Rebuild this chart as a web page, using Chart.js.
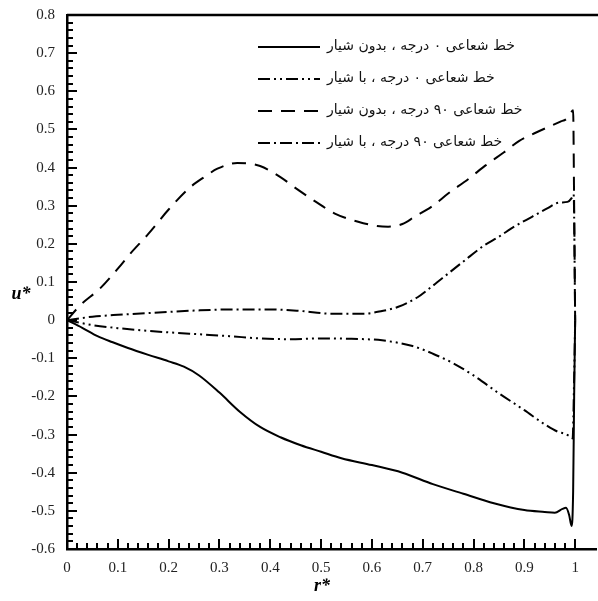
<!DOCTYPE html>
<html>
<head>
<meta charset="utf-8">
<script src="https://cdn.jsdelivr.net/npm/chart.js@4/dist/chart.umd.min.js"></script>
<style>
  html, body { margin: 0; padding: 0; background: #fff; overflow: hidden; }
  #wrap { width: 598px; height: 601px; }
</style>
</head>
<body>
<div id="wrap"><canvas id="c"></canvas></div>
<script>
// Radial velocity profiles u* against r*
const labels = [
  'خط شعاعی ۰ درجه ، بدون شیار',
  'خط شعاعی ۰ درجه ، با شیار',
  'خط شعاعی ۹۰ درجه ، بدون شیار',
  'خط شعاعی ۹۰ درجه ، با شیار'
];

// 0 deg, no groove
const r0plain = [0, 0.03, 0.06, 0.09, 0.12, 0.16, 0.2, 0.23, 0.26, 0.3, 0.34, 0.38, 0.42, 0.46, 0.5, 0.54, 0.6, 0.66, 0.72, 0.78, 0.84, 0.9, 0.94, 0.96, 0.975, 0.982, 0.988, 0.993, 0.996, 0.998, 1.0];
const u0plain = [0, -0.02, -0.042, -0.058, -0.073, -0.091, -0.108, -0.122, -0.145, -0.19, -0.24, -0.28, -0.307, -0.328, -0.345, -0.362, -0.38, -0.4, -0.43, -0.455, -0.48, -0.498, -0.503, -0.505, -0.495, -0.492, -0.51, -0.54, -0.45, -0.2, 0];

// 0 deg, grooved
const r0groove = [0, 0.05, 0.1, 0.15, 0.2, 0.26, 0.32, 0.38, 0.44, 0.5, 0.56, 0.62, 0.68, 0.72, 0.76, 0.8, 0.85, 0.9, 0.94, 0.965, 0.98, 0.99, 0.995, 0.998, 1.0];
const u0groove = [0, -0.013, -0.021, -0.027, -0.032, -0.037, -0.042, -0.048, -0.05, -0.048, -0.049, -0.053, -0.068, -0.088, -0.113, -0.145, -0.192, -0.236, -0.273, -0.292, -0.298, -0.305, -0.31, -0.15, 0];

// 90 deg, no groove
const r90plain = [0, 0.026, 0.065, 0.1, 0.125, 0.16, 0.2, 0.243, 0.27, 0.296, 0.335, 0.38, 0.42, 0.447, 0.49, 0.526, 0.573, 0.61, 0.632, 0.66, 0.684, 0.72, 0.75, 0.79, 0.823, 0.86, 0.89, 0.92, 0.948, 0.97, 0.985, 0.992, 0.996, 0.998, 1.0];
const u90plain = [0, 0.039, 0.083, 0.135, 0.175, 0.226, 0.29, 0.349, 0.375, 0.397, 0.412, 0.404, 0.375, 0.349, 0.31, 0.28, 0.258, 0.247, 0.245, 0.252, 0.271, 0.3, 0.332, 0.37, 0.405, 0.44, 0.47, 0.49, 0.507, 0.52, 0.53, 0.545, 0.55, 0.3, 0];

// 90 deg, grooved
const r90groove = [0, 0.05, 0.1, 0.18, 0.25, 0.32, 0.4, 0.46, 0.52, 0.586, 0.62, 0.652, 0.69, 0.717, 0.75, 0.783, 0.82, 0.849, 0.88, 0.915, 0.945, 0.968, 0.985, 0.993, 0.997, 1.0];
const u90groove = [0, 0.009, 0.014, 0.02, 0.025, 0.028, 0.028, 0.024, 0.017, 0.017, 0.024, 0.035, 0.06, 0.087, 0.122, 0.157, 0.195, 0.218, 0.245, 0.271, 0.293, 0.308, 0.31, 0.32, 0.33, 0];

const xTickLabels = ['0', '0.1', '0.2', '0.3', '0.4', '0.5', '0.6', '0.7', '0.8', '0.9', '1'];
const yTickLabels = ['-0.6', '-0.5', '-0.4', '-0.3', '-0.2', '-0.1', '0', '0.1', '0.2', '0.3', '0.4', '0.5', '0.6', '0.7', '0.8'];

const pts = (xs, ys) => xs.map((x, i) => ({ x, y: ys[i] }));

const lineStyles = [
  [],
  [12, 4, 2, 4, 2, 4],
  [14, 9],
  [12, 4, 2, 4]
];
const series = [pts(r0plain, u0plain), pts(r0groove, u0groove), pts(r90plain, u90plain), pts(r90groove, u90groove)];

const datasets = series.map((data, i) => ({
  label: labels[i],
  data,
  showLine: true,
  borderColor: '#000',
  borderWidth: 2,
  borderDash: lineStyles[i],
  pointRadius: 0,
  fill: false,
  cubicInterpolationMode: 'monotone'
}));

function labelFor(v, list) {
  const k = Math.round(v * 10);
  if (Math.abs(v * 10 - k) > 1e-6) return '';
  const s = (k / 10).toString();
  return list.includes(s) ? s : '';
}

const serif = '"Liberation Serif", "Times New Roman", serif';

const decorations = {
  id: 'decorations',
  afterDraw(chart) {
    const ctx = chart.ctx;
    const a = chart.chartArea;
    const xs = chart.scales.x, ys = chart.scales.y;
    ctx.save();
    ctx.strokeStyle = '#000';
    // top frame line
    ctx.lineWidth = 2.5;
    ctx.beginPath();
    ctx.moveTo(a.left, a.top);
    ctx.lineTo(chart.width, a.top);
    ctx.stroke();
    // inward tick marks
    ctx.lineWidth = 2;
    xs.ticks.forEach(t => {
      if (t.value > 1.0001) return;
      const major = labelFor(t.value, xTickLabels) !== '';
      const px = Math.round(xs.getPixelForValue(t.value));
      ctx.beginPath();
      ctx.moveTo(px, a.bottom);
      ctx.lineTo(px, a.bottom - (major ? 10 : 6));
      ctx.stroke();
    });
    ys.ticks.forEach(t => {
      const major = labelFor(t.value, yTickLabels) !== '';
      const py = Math.round(ys.getPixelForValue(t.value));
      ctx.beginPath();
      ctx.moveTo(a.left, py);
      ctx.lineTo(a.left + (major ? 10 : 6), py);
      ctx.stroke();
    });
    // axis titles
    ctx.fillStyle = '#000';
    ctx.font = 'italic bold 18px ' + serif;
    ctx.textAlign = 'center';
    ctx.textBaseline = 'middle';
    ctx.fillText('u*', 21, 294);
    ctx.fillText('r*', 322, 586);
    // legend: line sample on the left, Persian label to its right
    const rowY = [46, 78, 110, 142];
    const sx0 = 258, sx1 = 320, tx = 327;
    chart.data.datasets.forEach((ds, i) => {
      ctx.setLineDash(ds.borderDash || []);
      ctx.lineWidth = 2;
      ctx.beginPath();
      ctx.moveTo(sx0, rowY[i] + 1);
      ctx.lineTo(sx1, rowY[i] + 1);
      ctx.stroke();
      ctx.setLineDash([]);
      ctx.direction = 'rtl';
      ctx.textAlign = 'left';
      ctx.font = '14px "DejaVu Sans", "Noto Sans", sans-serif';
      ctx.fillStyle = '#111';
      ctx.fillText(ds.label, tx, rowY[i]);
    });
    ctx.restore();
  }
};

new Chart(document.getElementById('c'), {
  type: 'scatter',
  data: { datasets },
  options: {
    responsive: true,
    maintainAspectRatio: false,
    animation: false,
    layout: { padding: { top: 15, right: 0, left: 0, bottom: 0 } },
    plugins: { legend: { display: false }, tooltip: { enabled: false } },
    scales: {
      x: {
        type: 'linear',
        min: 0,
        max: 1.041,
        grid: { display: false },
        border: { display: true, color: '#000', width: 2.5 },
        afterFit(s) { s.height = 52; },
        ticks: {
          stepSize: 0.02,
          autoSkip: false,
          maxRotation: 0,
          padding: 2,
          color: '#222',
          font: { family: serif, size: 15 },
          callback: v => labelFor(v, xTickLabels)
        }
      },
      y: {
        type: 'linear',
        min: -0.6,
        max: 0.8,
        grid: { display: false },
        border: { display: true, color: '#000', width: 2.5 },
        afterFit(s) { s.width = 67; },
        ticks: {
          stepSize: 0.02,
          autoSkip: false,
          padding: 4,
          color: '#222',
          font: { family: serif, size: 15 },
          callback: v => labelFor(v, yTickLabels)
        }
      }
    }
  },
  plugins: [decorations]
});
</script>
</body>
</html>
